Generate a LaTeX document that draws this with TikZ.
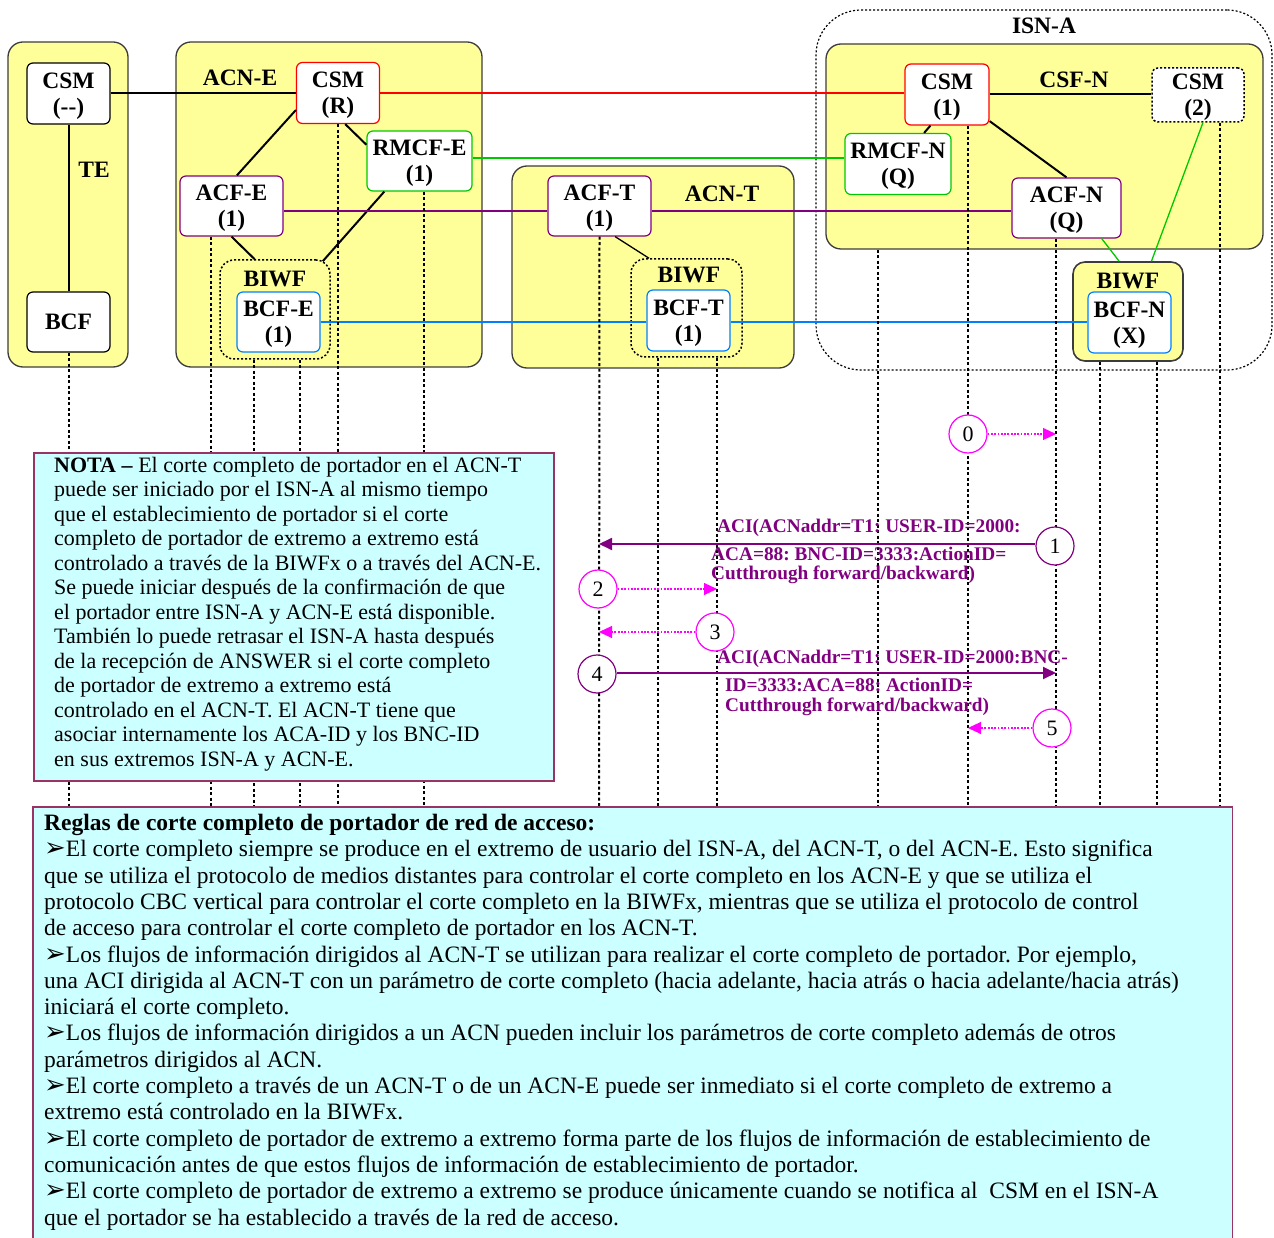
\documentclass[tikz,border=0pt]{standalone}
\usepackage{fontspec}
\setmainfont{Liberation Serif}
\newfontfamily\symfont{DejaVu Sans}
\usetikzlibrary{arrows.meta,calc}
\definecolor{ylw}{RGB}{255,255,153}
\definecolor{cyn}{RGB}{204,255,255}
\definecolor{contb}{RGB}{60,60,60}
\definecolor{rd}{RGB}{255,0,0}
\definecolor{gr}{RGB}{0,200,0}
\definecolor{pu}{RGB}{128,0,128}
\definecolor{bl}{RGB}{0,128,255}
\definecolor{mg}{RGB}{255,0,255}
\definecolor{nb}{RGB}{153,51,102}
\newcommand\bxfont{\fontsize{23.5}{26}\selectfont\bfseries}
\newcommand\bul{{\symfont\fontsize{26}{26}\selectfont ➢}}
\tikzset{
  cont/.style={draw=contb, fill=ylw, rounded corners=15pt, line width=1.3pt, inner sep=0pt},
  fbox/.style={draw, fill=white, rounded corners=6pt, line width=1.2pt, align=center, inner sep=0pt, text depth=0pt, font=\bxfont},
  dbox/.style={draw, rounded corners=14pt, line width=1.5pt, dash pattern=on 2pt off 2pt, inner sep=0pt},
  lbl/.style={font=\bxfont, inner sep=0pt},
  life/.style={line width=2pt, dash pattern=on 3pt off 2.5pt},
  conn/.style={line width=2pt},
  stepc/.style={circle, draw, fill=white, minimum size=38pt, inner sep=0pt, line width=1.2pt, font=\fontsize{22}{22}\selectfont},
  msgt/.style={anchor=west, inner sep=0pt, text=pu, font=\fontsize{19.3}{20}\selectfont\bfseries},
  msga/.style={draw=pu, line width=1.8pt, -{Triangle[length=13pt,width=12pt]}},
  dota/.style={draw=mg, line width=1.1pt, dash pattern=on 1.8pt off 1.5pt, -{Triangle[length=13pt,width=12pt]}}
}
\begin{document}
\frenchspacing
\begin{tikzpicture}[x=1pt,y=-1pt]
\useasboundingbox (0,0) rectangle (1274,1238);
% containers
\node[draw, rounded corners=45pt, line width=1.2pt, dash pattern=on 2pt off 2pt, minimum width=456pt, minimum height=360pt, inner sep=0pt] (isna) at (1044,190) {};
\node[cont, minimum width=120pt, minimum height=325pt] (te) at (68,204.5) {};
\node[cont, minimum width=306pt, minimum height=325pt] (acne) at (329,204.5) {};
\node[cont, minimum width=282pt, minimum height=202pt] (acnt) at (653,267) {};
\node[cont, minimum width=437pt, minimum height=205pt] (csfn) at (1044.5,146.5) {};
\node[cont, rounded corners=12pt, line width=1.6pt, minimum width=110pt, minimum height=99pt] (biwfn) at (1128,311.5) {};
\node[dbox, minimum width=110pt, minimum height=99pt] (biwfe) at (275,309.5) {};
\node[dbox, minimum width=111pt, minimum height=98pt] (biwft) at (686.5,308) {};
% labels
\node[lbl] (lte) at (94,170) {TE};
\node[lbl] (lacne) at (240,78) {ACN-E};
\node[lbl] (lbiwfe) at (275,279) {BIWF};
\node[lbl] (lacnt) at (722,194) {ACN-T};
\node[lbl] (lbiwft) at (689,275) {BIWF};
\node[lbl] (lisna) at (1044,26) {ISN-A};
\node[lbl] (lcsfn) at (1074,80) {CSF-N};
\node[lbl] (lbiwfn) at (1128,281) {BIWF};
% functional boxes
\node[fbox, minimum width=83pt, minimum height=61pt] (csmte) at (68.5,93.5) {CSM\\({-}{-})};
\node[fbox, minimum width=83pt, minimum height=60pt] (bcf) at (68.5,322) {BCF};
\node[fbox, draw=rd, minimum width=83pt, minimum height=61pt] (csmr) at (338,93) {CSM\\(R)};
\node[fbox, draw=gr, minimum width=105pt, minimum height=60pt] (rmcfe) at (419.5,161) {RMCF-E\\(1)};
\node[fbox, draw=pu, minimum width=103pt, minimum height=60pt] (acfe) at (231.5,206) {ACF-E\\(1)};
\node[fbox, draw=bl, minimum width=83pt, minimum height=60pt] (bcfe) at (278.5,322) {BCF-E\\(1)};
\node[fbox, draw=pu, minimum width=103pt, minimum height=60pt] (acft) at (599.5,206) {ACF-T\\(1)};
\node[fbox, draw=bl, minimum width=83pt, minimum height=61pt] (bcft) at (688.5,320.5) {BCF-T\\(1)};
\node[fbox, draw=rd, minimum width=84pt, minimum height=61pt] (csm1) at (947,94.5) {CSM\\(1)};
\node[fbox, dash pattern=on 2pt off 2pt, line width=1.5pt, minimum width=92pt, minimum height=54pt] (csm2) at (1198,95) {CSM\\(2)};
\node[fbox, draw=gr, minimum width=106pt, minimum height=61pt] (rmcfn) at (898,164) {RMCF-N\\(Q)};
\node[fbox, draw=pu, minimum width=109pt, minimum height=60pt] (acfn) at (1066.5,208) {ACF-N\\(Q)};
\node[fbox, draw=bl, minimum width=83pt, minimum height=61pt] (bcfn) at (1129.5,322.5) {BCF-N\\(X)};
% black connectors
\draw[conn] (csmte.east) -- (csmte.east -| csmr.west);
\draw[conn] (csmte.south) -- (bcf.north);
\draw[conn] (csmr.202) -- (acfe.80);
\draw[conn] (csmr.-77) -- (rmcfe.163);
\draw[conn] (acfe.south) -- (biwfe.112);
\draw[conn] (rmcfe.221) -- ($(biwfe.north east)+(-8,2)$);
\draw[line width=1.3pt] (acft.-63) -- (biwft.127);
\draw[conn] (csm1.242) -- (rmcfn.50);
\draw[conn] (csm1.-32) -- (acfn.north);
\draw[conn] (csm1.east) -- (csm1.east -| csm2.west);
% coloured connectors
\draw[conn, draw=rd] (csmr.east) -- (csmr.east -| csm1.west);
\draw[conn, draw=gr] (rmcfe.3) -- (rmcfe.3 -| rmcfn.west);
\draw[conn, draw=pu] (acfe.-5) -- (acfe.-5 -| acft.west);
\draw[conn, draw=pu] (acft.east |- acfe.-5) -- (acfe.-5 -| acfn.west);
\draw[conn, draw=bl] (bcfe.east) -- (bcfe.east -| bcft.west);
\draw[conn, draw=bl] (bcft.east |- bcfe.east) -- (bcfe.east -| bcfn.west);
\draw[line width=1.3pt, draw=gr] (acfn.-41) -- (biwfn.100);
\draw[line width=1.3pt, draw=gr] (csm2.-80) -- (biwfn.65);
% lifeline ends
\foreach \n/\xx in {68/68.5,211/211,254/254,300/300,337/338,424/424,598/599,658/658,717/717,878/878,968/968,1056/1056,1100/1100,1157/1157,1220/1220}
  \coordinate (b\n) at (\xx,807);
\draw[life] (bcf.south) -- (b68);
\draw[life] (acfe.south -| b211) -- (b211);
\draw[life] (biwfe.south -| b254) -- (b254);
\draw[life] (biwfe.south -| b300) -- (b300);
\draw[life] (csmr.south) -- (b337);
\draw[life] (rmcfe.south -| b424) -- (b424);
\draw[life] (acft.south) -- (b598);
\draw[life] (biwft.south -| b658) -- (b658);
\draw[life] (biwft.south -| b717) -- (b717);
\draw[life] (csfn.south -| b878) -- (b878);
\draw[life] (csm1.south -| b968) -- (b968);
\draw[life] (acfn.south -| b1056) -- (b1056);
\draw[life] (biwfn.south -| b1100) -- (b1100);
\draw[life] (biwfn.south -| b1157) -- (b1157);
\draw[life] (csm2.south -| b1220) -- (b1220);
% note box
\node[draw=nb, fill=cyn, line width=1.5pt, minimum width=520pt, minimum height=328pt, inner sep=0pt, anchor=north west] (notebox) at (33,452) {};
\node[anchor=north west, align=left, inner sep=0pt, font=\fontsize{22}{24.5}\selectfont] (notetext) at (54,457) {%
\textbf{NOTA –} El corte completo de portador en el ACN-T\\
puede ser iniciado por el ISN-A al mismo tiempo\\
que el establecimiento de portador si el corte\\
completo de portador de extremo a extremo está\\
controlado a través de la BIWFx o a través del ACN-E.\\
Se puede iniciar después de la confirmación de que\\
el portador entre ISN-A y ACN-E está disponible.\\
También lo puede retrasar el ISN-A hasta después\\
de la recepción de ANSWER si el corte completo\\
de portador de extremo a extremo está\\
controlado en el ACN-T. El ACN-T tiene que\\
asociar internamente los ACA-ID y los BNC-ID\\
en sus extremos ISN-A y ACN-E.};
% rules box
\node[fill=cyn, minimum width=1199pt, minimum height=431pt, inner sep=0pt, anchor=north west] (rules) at (33,807) {};
\draw[draw=nb, line width=1.5pt] (rules.south west) -- (rules.north west) -- (rules.north east) -- (rules.south east);
\node[anchor=north west, align=left, inner sep=0pt, font=\fontsize{23.5}{26.3}\selectfont] (rulestext) at (44,814) {%
\textbf{Reglas de corte completo de portador de red de acceso:}\\
\bul El corte completo siempre se produce en el extremo de usuario del ISN-A, del ACN-T, o del ACN-E. Esto significa\\
que se utiliza el protocolo de medios distantes para controlar el corte completo en los ACN-E y que se utiliza el\\
protocolo CBC vertical para controlar el corte completo en la BIWFx, mientras que se utiliza el protocolo de control\\
de acceso para controlar el corte completo de portador en los ACN-T.\\
\bul Los flujos de información dirigidos al ACN-T se utilizan para realizar el corte completo de portador. Por ejemplo,\\
una ACI dirigida al ACN-T con un parámetro de corte completo (hacia adelante, hacia atrás o hacia adelante/hacia atrás)\\
iniciará el corte completo.\\
\bul Los flujos de información dirigidos a un ACN pueden incluir los parámetros de corte completo además de otros\\
parámetros dirigidos al ACN.\\
\bul El corte completo a través de un ACN-T o de un ACN-E puede ser inmediato si el corte completo de extremo a\\
extremo está controlado en la BIWFx.\\
\bul El corte completo de portador de extremo a extremo forma parte de los flujos de información de establecimiento de\\
comunicación antes de que estos flujos de información de establecimiento de portador.\\
\bul El corte completo de portador de extremo a extremo se produce únicamente cuando se notifica al\ \ CSM en el ISN-A\\
que el portador se ha establecido a través de la red de acceso.};
% step circles
\node[stepc, draw=mg] (c0) at (968,434) {0};
\node[stepc, draw=pu] (c1) at (1055,546) {1};
\node[stepc, draw=mg] (c2) at (598,589) {2};
\node[stepc, draw=mg] (c3) at (715,632) {3};
\node[stepc, draw=pu] (c4) at (597,674) {4};
\node[stepc, draw=mg] (c5) at (1052,728) {5};
% messages
\draw[dota] (c0.east) -- (c0.east -| b1056);
\draw[msga] (c1.west |- 0,544) -- (b598 |- 0,544);
\draw[dota] (c2.east) -- (c2.east -| b717);
\draw[dota] (c3.west) -- (c3.west -| b598);
\draw[msga] (c4.east |- 0,673) -- (b1056 |- 0,673);
\draw[dota] (c5.west) -- (c5.west -| b968);
\node[msgt] (m1a) at (717,528) {ACI(ACNaddr=T1: USER-ID=2000:};
\node[msgt] (m1b) at (711,554) {ACA=88: BNC-ID=3333:ActionID=};
\node[msgt] (m1c) at (711,575) {Cutthrough forward/backward)};
\node[msgt] (m4a) at (717,659) {ACI(ACNaddr=T1: USER-ID=2000:BNC-};
\node[msgt] (m4b) at (725,685) {ID=3333:ACA=88: ActionID=};
\node[msgt] (m4c) at (725,707) {Cutthrough forward/backward)};
\end{tikzpicture}
\end{document}
